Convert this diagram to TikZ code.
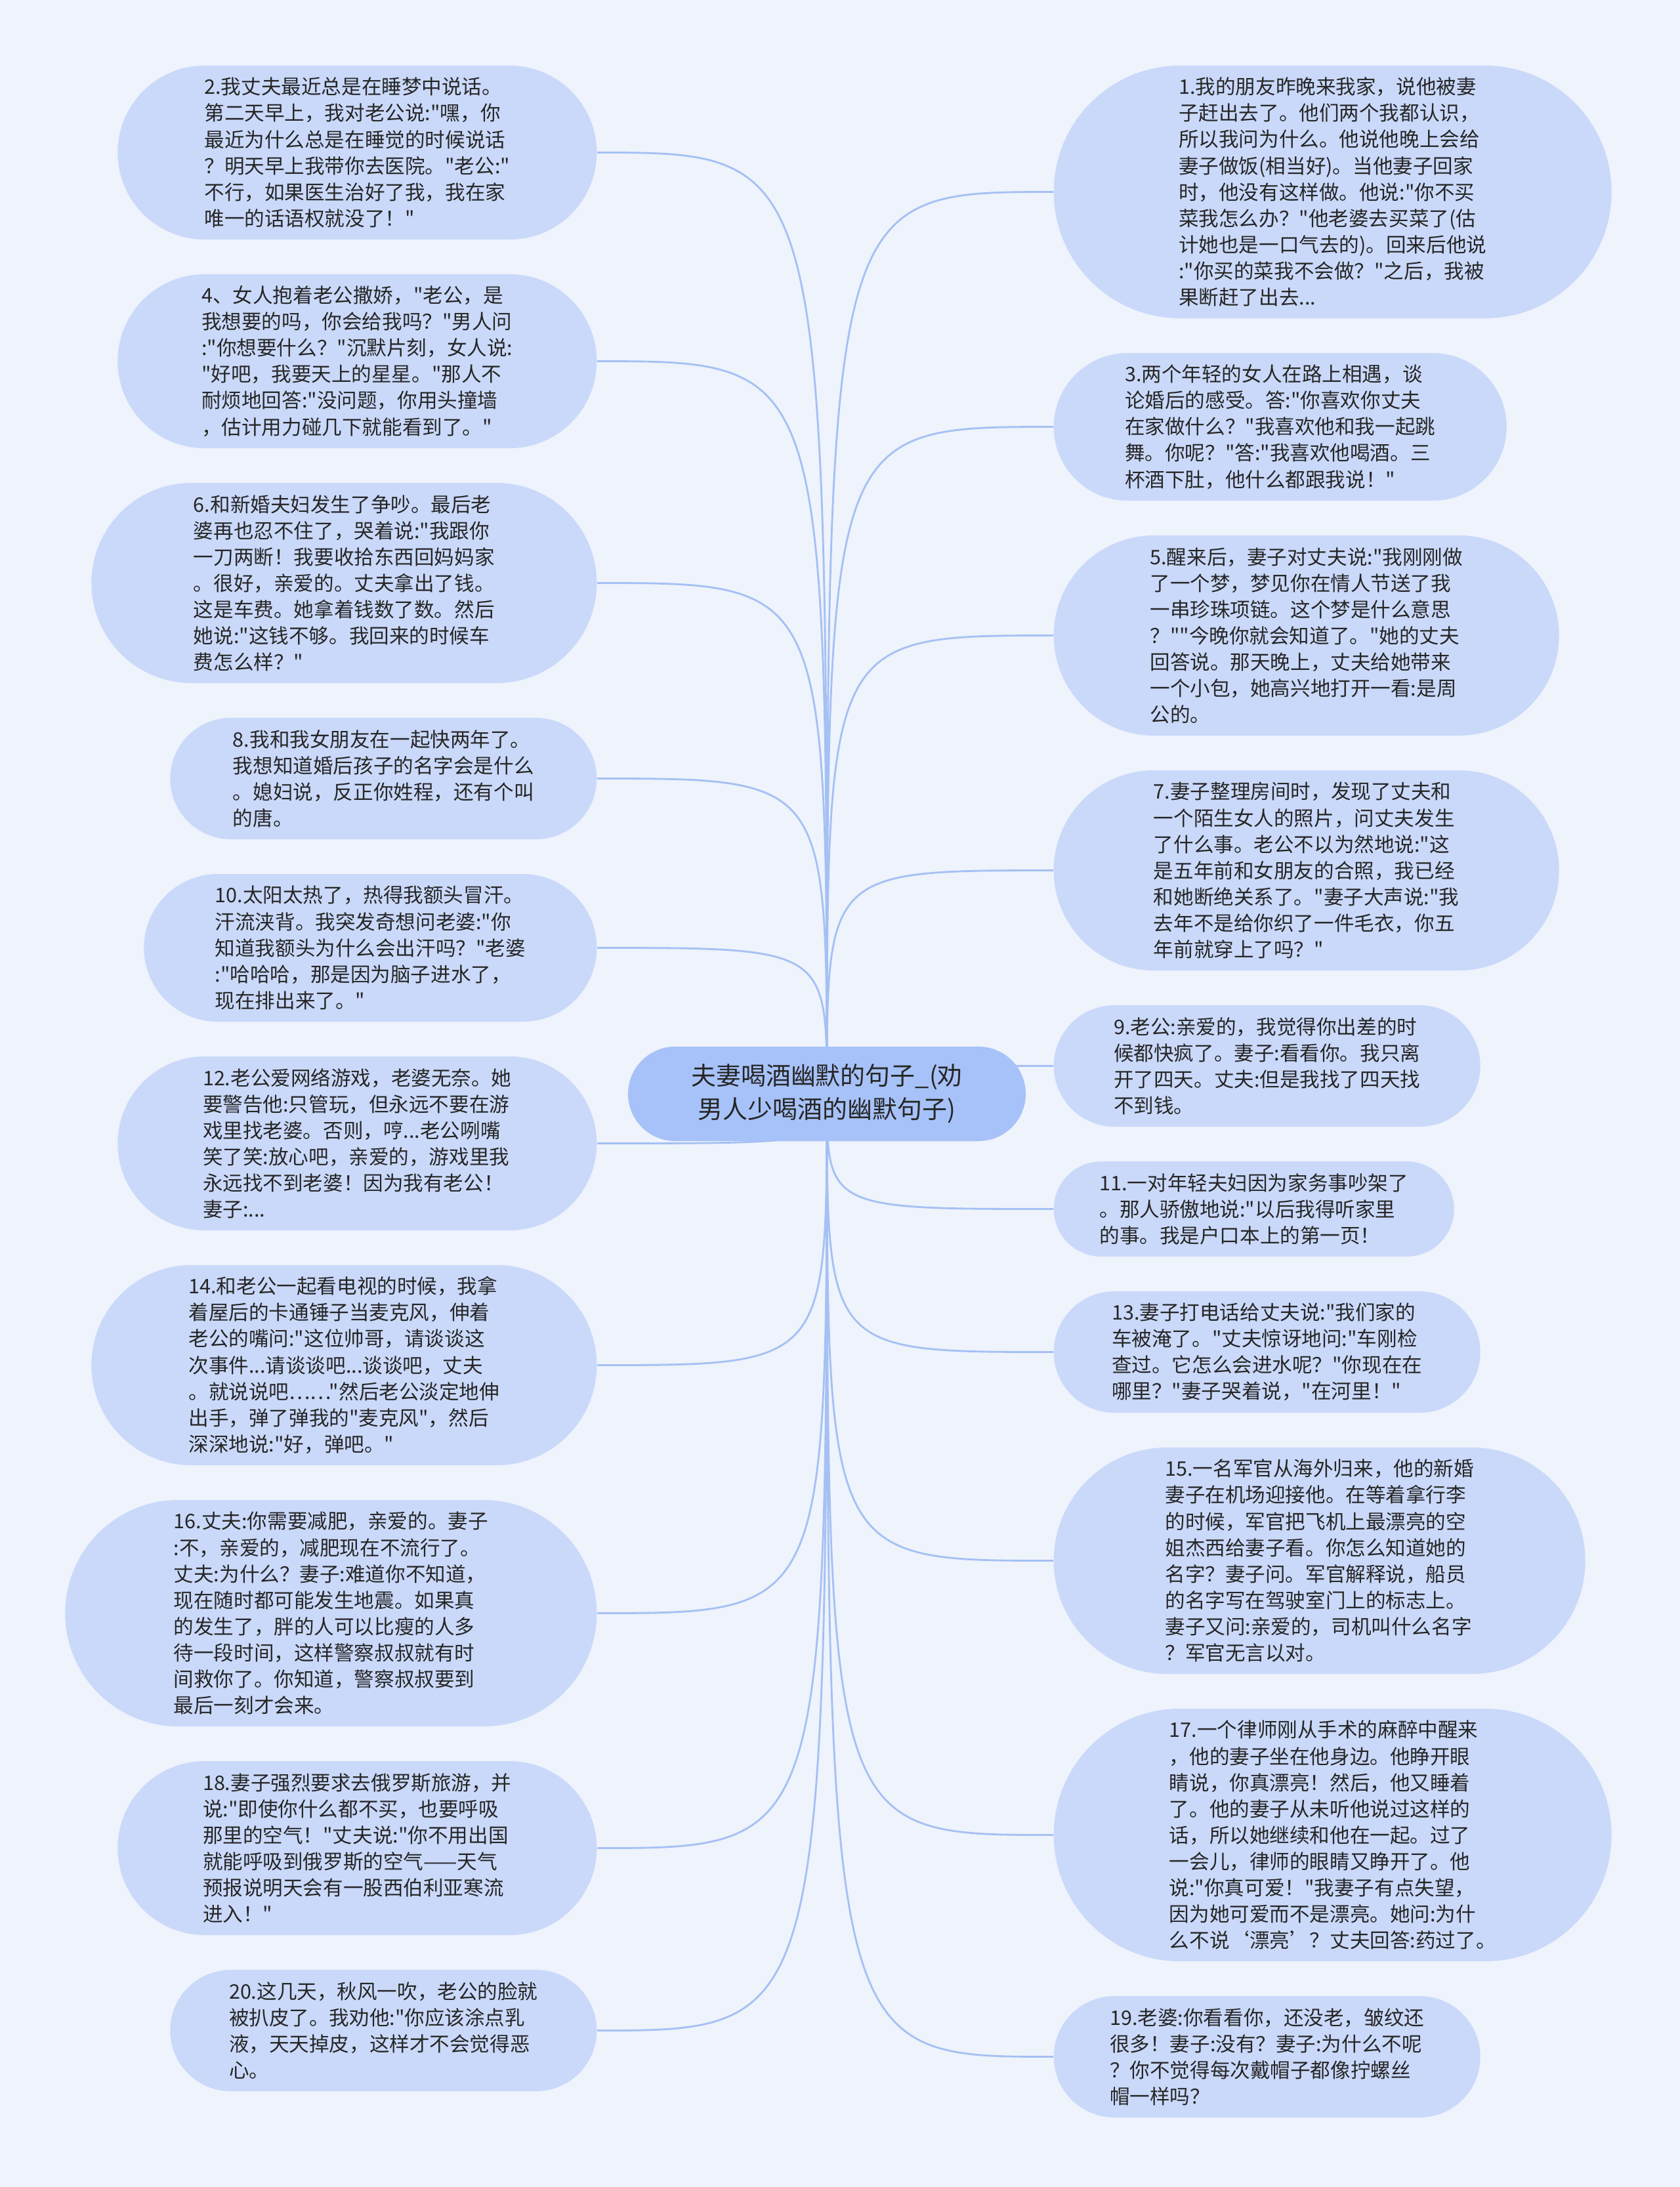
\documentclass[tikz,border=0pt]{standalone}
\usepackage{fontspec}
\newfontfamily\jokefont{Noto Sans CJK SC}
\usetikzlibrary{shapes.misc, positioning, calc}
\definecolor{PageBlue}{RGB}{238, 243, 252}
\definecolor{LeafBlue}{RGB}{202, 217, 250}
\definecolor{RootBlue}{RGB}{167, 194, 248}
\definecolor{LinkBlue}{RGB}{165, 192, 243}
\definecolor{InkGray}{RGB}{38, 38, 38}
\pgfdeclarelayer{bg}
\pgfdeclarelayer{links}
\pgfsetlayers{bg,links,main}
\tikzset{
  joke/.style={rounded rectangle, fill=LeafBlue, text=InkGray, align=left,
    inner xsep=0pt, inner ysep=0pt, font=\jokefont\fontsize{8.7pt}{11.4pt}\selectfont,
    minimum height=0.4cm*#1+0.25cm, minimum width=0.4cm*#1+4.9cm},
  title/.style={rounded rectangle, fill=RootBlue, text=InkGray, align=center,
    inner xsep=0pt, inner ysep=0pt, font=\jokefont\fontsize{10.8pt}{14.5pt}\selectfont,
    minimum height=1.44cm, minimum width=6.06cm},
  link/.style={LinkBlue, line width=0.8pt},
}

\begin{document}
\begin{tikzpicture}
  \useasboundingbox (0,0) rectangle (25.6,-33.33);
  \begin{pgfonlayer}{bg}
    \fill[PageBlue] (0,0) rectangle (25.6,-33.33);
  \end{pgfonlayer}

  % centre
  \node[title] (root) at (12.6,-16.67) {夫妻喝酒幽默的句子\_(劝\\男人少喝酒的幽默句子)};

  % left column
  \node[joke=6, anchor=east] (n2) at (9.1,-2.325) {2.我丈夫最近总是在睡梦中说话。\\第二天早上，我对老公说:"嘿，你\\最近为什么总是在睡觉的时候说话\\？明天早上我带你去医院。"老公:"\\不行，如果医生治好了我，我在家\\唯一的话语权就没了！"};
  \node[joke=6, anchor=east] (n4) at (9.1,-5.505) {4、女人抱着老公撒娇，"老公，是\\我想要的吗，你会给我吗？"男人问\\:"你想要什么？"沉默片刻，女人说:\\"好吧，我要天上的星星。"那人不\\耐烦地回答:"没问题，你用头撞墙\\，估计用力碰几下就能看到了。"};
  \node[joke=7, anchor=east] (n6) at (9.1,-8.885) {6.和新婚夫妇发生了争吵。最后老\\婆再也忍不住了，哭着说:"我跟你\\一刀两断！我要收拾东西回妈妈家\\。很好，亲爱的。丈夫拿出了钱。\\这是车费。她拿着钱数了数。然后\\她说:"这钱不够。我回来的时候车\\费怎么样？"};
  \node[joke=4, anchor=east] (n8) at (9.1,-11.865) {8.我和我女朋友在一起快两年了。\\我想知道婚后孩子的名字会是什么\\。媳妇说，反正你姓程，还有个叫\\的唐。};
  \node[joke=5, anchor=east] (n10) at (9.1,-14.445) {10.太阳太热了，热得我额头冒汗。\\汗流浃背。我突发奇想问老婆:"你\\知道我额头为什么会出汗吗？"老婆\\:"哈哈哈，那是因为脑子进水了，\\现在排出来了。"};
  \node[joke=6, anchor=east] (n12) at (9.1,-17.425) {12.老公爱网络游戏，老婆无奈。她\\要警告他:只管玩，但永远不要在游\\戏里找老婆。否则，哼...老公咧嘴\\笑了笑:放心吧，亲爱的，游戏里我\\永远找不到老婆！因为我有老公！\\妻子:...};
  \node[joke=7, anchor=east] (n14) at (9.1,-20.805) {14.和老公一起看电视的时候，我拿\\着屋后的卡通锤子当麦克风，伸着\\老公的嘴问:"这位帅哥，请谈谈这\\次事件...请谈谈吧...谈谈吧，丈夫\\。就说说吧……"然后老公淡定地伸\\出手，弹了弹我的"麦克风"，然后\\深深地说:"好，弹吧。"};
  \node[joke=8, anchor=east] (n16) at (9.1,-24.585) {16.丈夫:你需要减肥，亲爱的。妻子\\:不，亲爱的，减肥现在不流行了。\\丈夫:为什么？妻子:难道你不知道，\\现在随时都可能发生地震。如果真\\的发生了，胖的人可以比瘦的人多\\待一段时间，这样警察叔叔就有时\\间救你了。你知道，警察叔叔要到\\最后一刻才会来。};
  \node[joke=6, anchor=east] (n18) at (9.1,-28.165) {18.妻子强烈要求去俄罗斯旅游，并\\说:"即使你什么都不买，也要呼吸\\那里的空气！"丈夫说:"你不用出国\\就能呼吸到俄罗斯的空气——天气\\预报说明天会有一股西伯利亚寒流\\进入！"};
  \node[joke=4, anchor=east] (n20) at (9.1,-30.945) {20.这几天，秋风一吹，老公的脸就\\被扒皮了。我劝他:"你应该涂点乳\\液，天天掉皮，这样才不会觉得恶\\心。};

  % right column
  \node[joke=9, anchor=west] (n1) at (16.05,-2.925) {1.我的朋友昨晚来我家，说他被妻\\子赶出去了。他们两个我都认识，\\所以我问为什么。他说他晚上会给\\妻子做饭(相当好)。当他妻子回家\\时，他没有这样做。他说:"你不买\\菜我怎么办？"他老婆去买菜了(估\\计她也是一口气去的)。回来后他说\\:"你买的菜我不会做？"之后，我被\\果断赶了出去...};
  \node[joke=5, anchor=west] (n3) at (16.05,-6.505) {3.两个年轻的女人在路上相遇，谈\\论婚后的感受。答:"你喜欢你丈夫\\在家做什么？"我喜欢他和我一起跳\\舞。你呢？"答:"我喜欢他喝酒。三\\杯酒下肚，他什么都跟我说！"};
  \node[joke=7, anchor=west] (n5) at (16.05,-9.685) {5.醒来后，妻子对丈夫说:"我刚刚做\\了一个梦，梦见你在情人节送了我\\一串珍珠项链。这个梦是什么意思\\？""今晚你就会知道了。"她的丈夫\\回答说。那天晚上，丈夫给她带来\\一个小包，她高兴地打开一看:是周\\公的。};
  \node[joke=7, anchor=west] (n7) at (16.05,-13.265) {7.妻子整理房间时，发现了丈夫和\\一个陌生女人的照片，问丈夫发生\\了什么事。老公不以为然地说:"这\\是五年前和女朋友的合照，我已经\\和她断绝关系了。"妻子大声说:"我\\去年不是给你织了一件毛衣，你五\\年前就穿上了吗？"};
  \node[joke=4, anchor=west] (n9) at (16.05,-16.245) {9.老公:亲爱的，我觉得你出差的时\\候都快疯了。妻子:看看你。我只离\\开了四天。丈夫:但是我找了四天找\\不到钱。};
  \node[joke=3, anchor=west] (n11) at (16.05,-18.425) {11.一对年轻夫妇因为家务事吵架了\\。那人骄傲地说:"以后我得听家里\\的事。我是户口本上的第一页！};
  \node[joke=4, anchor=west] (n13) at (16.05,-20.605) {13.妻子打电话给丈夫说:"我们家的\\车被淹了。"丈夫惊讶地问:"车刚检\\查过。它怎么会进水呢？"你现在在\\哪里？"妻子哭着说，"在河里！"};
  \node[joke=8, anchor=west] (n15) at (16.05,-23.785) {15.一名军官从海外归来，他的新婚\\妻子在机场迎接他。在等着拿行李\\的时候，军官把飞机上最漂亮的空\\姐杰西给妻子看。你怎么知道她的\\名字？妻子问。军官解释说，船员\\的名字写在驾驶室门上的标志上。\\妻子又问:亲爱的，司机叫什么名字\\？军官无言以对。};
  \node[joke=9, anchor=west] (n17) at (16.05,-27.965) {17.一个律师刚从手术的麻醉中醒来\\，他的妻子坐在他身边。他睁开眼\\睛说，你真漂亮！然后，他又睡着\\了。他的妻子从未听他说过这样的\\话，所以她继续和他在一起。过了\\一会儿，律师的眼睛又睁开了。他\\说:"你真可爱！"我妻子有点失望，\\因为她可爱而不是漂亮。她问:为什\\么不说‘漂亮’？丈夫回答:药过了。};
  \node[joke=4, anchor=west] (n19) at (16.05,-31.345) {19.老婆:你看看你，还没老，皱纹还\\很多！妻子:没有？妻子:为什么不呢\\？你不觉得每次戴帽子都像拧螺丝\\帽一样吗？};

  % connectors
  \begin{pgfonlayer}{links}
    \foreach \n in {n2, n4, n6, n8, n10, n12, n14, n16, n18, n20}
      \draw[link] (root.center) .. controls (root.center |- \n.east) .. (\n.east);
    \foreach \n in {n1, n3, n5, n7, n9, n11, n13, n15, n17, n19}
      \draw[link] (root.center) .. controls (root.center |- \n.west) .. (\n.west);
  \end{pgfonlayer}
\end{tikzpicture}
\end{document}
